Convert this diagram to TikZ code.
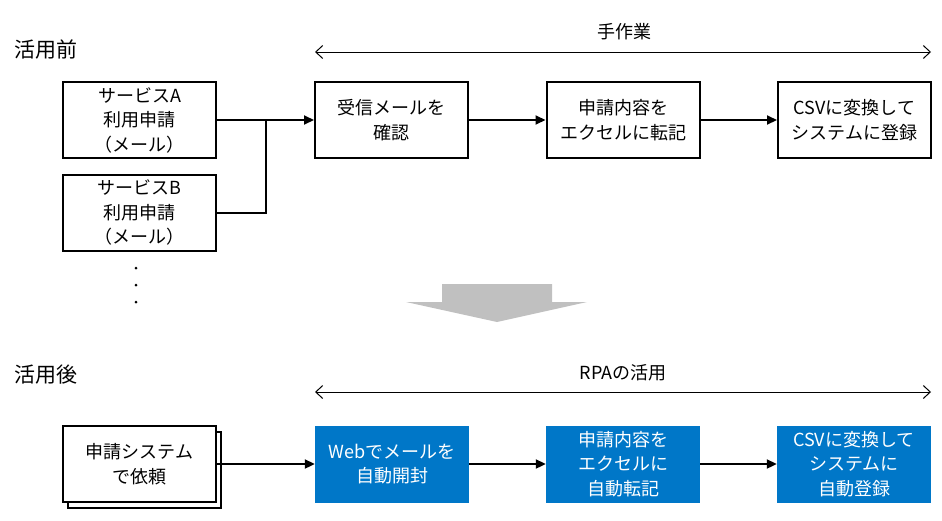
\documentclass[tikz,border=0pt]{standalone}
\usepackage{fontspec}
\setmainfont{Noto Sans CJK JP}
\usetikzlibrary{arrows.meta}
\definecolor{rpablue}{RGB}{0,119,200}
\definecolor{bigarrow}{RGB}{192,192,192}
\tikzset{
  x=1pt, y=-1pt,
  boxtext/.style={font=\fontsize{18}{24.5}\selectfont, align=center, inner sep=0pt},
  plainbox/.style={boxtext, draw=black, line width=2pt, fill=white, minimum width=153pt, minimum height=76pt},
  bluebox/.style={boxtext, fill=rpablue, text=white, minimum width=154pt, minimum height=77pt},
  title/.style={font=\fontsize{21}{24}\selectfont, inner sep=0pt},
  spanlabel/.style={font=\fontsize{18}{20}\selectfont, inner sep=0pt},
  flow/.style={line width=2pt, -{Triangle[length=10pt,width=9pt]}},
  joinline/.style={line width=2pt},
  span/.style={line width=1pt, {Straight Barb[length=7pt,width=13pt]}-{Straight Barb[length=7pt,width=13pt]}},
  dot/.style={circle, fill=black, inner sep=0pt, minimum size=3pt}
}
\begin{document}
\begin{tikzpicture}
\useasboundingbox (0,0) rectangle (942,520);

% ---- before ----
\node[title] (before) at (46,50) {活用前};
\coordinate (bl) at (315,52);
\coordinate (br) at (931,52);
\draw[span] (bl) -- (br);
\node[spanlabel] (manual) at (624,32) {手作業};

\node[plainbox] (svcA) at (139.5,120) {サービスA\\利用申請\\（メール）};
\node[plainbox] (svcB) at (139.5,212.5) {サービスB\\利用申請\\（メール）};
\node[dot] (d1) at (136,268) {};
\node[dot] (d2) at (136,285) {};
\node[dot] (d3) at (136,302) {};

\node[plainbox] (chk) at (391.5,120) {受信メールを\\確認};
\node[plainbox] (xl) at (623,120) {申請内容を\\エクセルに転記};
\node[plainbox] (csv) at (854.5,120) {CSVに変換して\\システムに登録};

\coordinate (jn) at (266,120);
\draw[flow] (svcA.east) -- (chk.west);
\draw[joinline] (svcB.east) -| (jn);
\draw[flow] (chk.east) -- (xl.west);
\draw[flow] (xl.east) -- (csv.west);

% ---- big arrow ----
\fill[bigarrow] (442,284) -- (552,284) -- (552,302) -- (587,302) -- (497,322) -- (406,302) -- (442,302) -- cycle;

% ---- after ----
\node[title] (after) at (46,375) {活用後};
\coordinate (al) at (315,392);
\coordinate (ar) at (931,392);
\draw[span] (al) -- (ar);
\node[spanlabel] (rpa) at (623,373) {RPAの活用};

\node[plainbox] (sysback) at (144.5,470) {};
\node[plainbox] (sys) at (139.5,464) {申請システム\\で依頼};

\node[bluebox] (web) at (392,464) {Webでメールを\\自動開封};
\node[bluebox] (axl) at (623,464) {申請内容を\\エクセルに\\自動転記};
\node[bluebox] (acsv) at (854,464) {CSVに変換して\\システムに\\自動登録};

\draw[flow] (sys.east) -- (web.west);
\draw[flow] (web.east) -- (axl.west);
\draw[flow] (axl.east) -- (acsv.west);
\end{tikzpicture}
\end{document}
